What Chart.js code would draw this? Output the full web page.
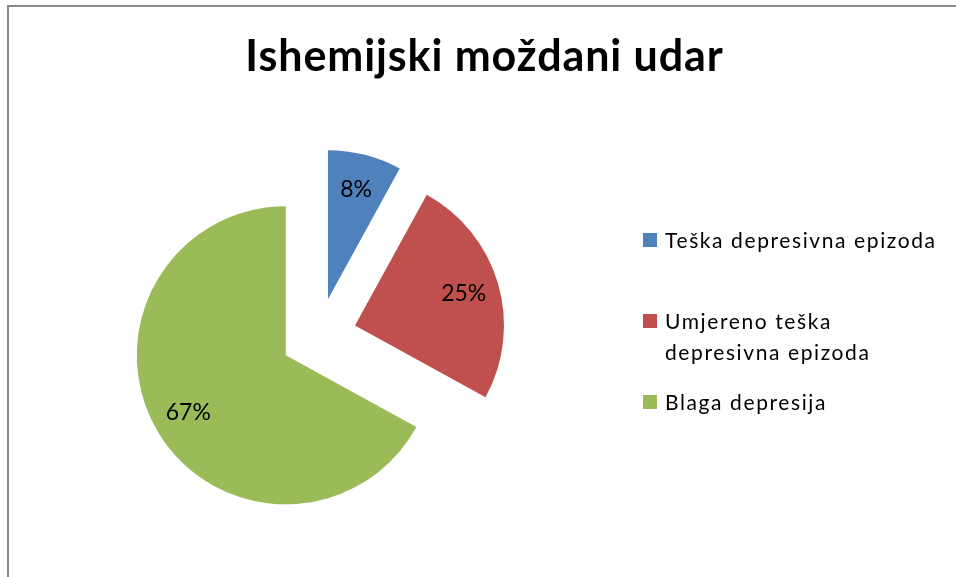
<!DOCTYPE html>
<html>
<head>
<meta charset="utf-8">
<title>Ishemijski moždani udar</title>
<script src="https://cdn.jsdelivr.net/npm/chart.js@4.4.1/dist/chart.umd.min.js"></script>
<style>
  body { margin: 0; background: #fff; }
  .wrap { position: relative; width: 956px; height: 577px; overflow: hidden; font-family: Lato, "Open Sans", sans-serif; color: #000; }
  .frame { position: absolute; left: 7px; top: 5px; right: 0; bottom: 0; border-left: 2px solid #8a8a8a; border-top: 2px solid #8a8a8a; }
  #chart { position: absolute; left: 0; top: 0; }
  .title { position: absolute; left: 0; width: 969px; top: 30px; line-height: 50px; text-align: center; font-weight: bold; font-size: 43px; letter-spacing: 0.9px; }
  .legend-item { position: absolute; left: 643px; padding-left: 22px; white-space: nowrap; font-size: 21px; letter-spacing: 1.6px; line-height: 31px; }
  .legend-item .box { position: absolute; left: 0; top: 9px; width: 14px; height: 14px; }
</style>
</head>
<body>
<div class="wrap">
  <div class="frame"></div>
  <canvas id="chart" width="956" height="577"></canvas>
  <div class="title" id="title"></div>
  <div id="legend"></div>
</div>
<script>
// chart data
const chartTitle = 'Ishemijski moždani udar';
const categories = ['Teška depresivna epizoda', ['Umjereno teška', 'depresivna epizoda'], 'Blaga depresija'];
const values = [8, 25, 67];
const colors = ['#4F81BD', '#C0504D', '#9BBB59'];

// layout bits
const legendTops = [224, 305, 386];
const EXPLODE = 38;      // how far every slice is pulled out of the pie
const LABEL_POS = 0.76;  // label distance from slice tip, as part of radius

document.getElementById('title').textContent = chartTitle;

// html legend built from the same arrays
const legend = document.getElementById('legend');
categories.forEach((cat, i) => {
    const item = document.createElement('div');
    item.className = 'legend-item';
    item.style.top = legendTops[i] + 'px';
    const box = document.createElement('span');
    box.className = 'box';
    box.style.background = colors[i];
    item.appendChild(box);
    const lines = Array.isArray(cat) ? cat : [cat];
    lines.forEach((line, j) => {
        if (j > 0) item.appendChild(document.createElement('br'));
        item.appendChild(document.createTextNode(line));
    });
    legend.appendChild(item);
});

// pull every arc out along its middle angle, like an exploded excel pie
const explodePlugin = {
    id: 'explode',
    afterDatasetsUpdate(chart) {
        chart.getDatasetMeta(0).data.forEach(arc => {
            const mid = (arc.startAngle + arc.endAngle) / 2;
            arc.x += Math.cos(mid) * EXPLODE;
            arc.y += Math.sin(mid) * EXPLODE;
        });
    }
};

// percent labels inside the slices
const percentLabels = {
    id: 'percentLabels',
    afterDatasetsDraw(chart) {
        const ctx = chart.ctx;
        const data = chart.data.datasets[0].data;
        const total = data.reduce((a, b) => a + b, 0);
        ctx.save();
        ctx.font = '23px Lato, "Open Sans", sans-serif';
        ctx.fillStyle = '#000';
        ctx.textAlign = 'center';
        ctx.textBaseline = 'middle';
        chart.getDatasetMeta(0).data.forEach((arc, i) => {
            const mid = (arc.startAngle + arc.endAngle) / 2;
            const r = arc.outerRadius * LABEL_POS;
            const x = arc.x + Math.cos(mid) * r;
            const y = arc.y + Math.sin(mid) * r;
            ctx.fillText(Math.round(data[i] / total * 100) + '%', x, y);
        });
        ctx.restore();
    }
};

new Chart(document.getElementById('chart'), {
    type: 'pie',
    data: {
        labels: categories,
        datasets: [{
            data: values,
            backgroundColor: colors,
            borderWidth: 0
        }]
    },
    options: {
        responsive: false,
        animation: false,
        events: [],
        radius: 149,
        layout: { padding: { left: 0, right: 319, top: 95, bottom: 0 } },
        plugins: {
            legend: { display: false },
            tooltip: { enabled: false },
            title: { display: false }
        }
    },
    plugins: [explodePlugin, percentLabels]
});
</script>
</body>
</html>
